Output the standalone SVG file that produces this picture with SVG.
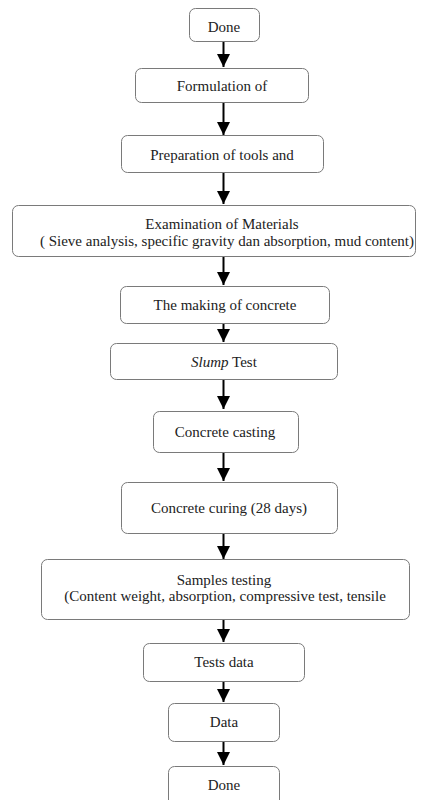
<svg xmlns="http://www.w3.org/2000/svg" width="424" height="800" viewBox="0 0 424 800">
<style>
.box{fill:#fff;stroke:#7a7a7a;stroke-width:1}
.t{font-family:'Liberation Serif','Times New Roman',serif;font-size:15px;fill:#222;text-anchor:middle}
.c line{stroke:#000;stroke-width:2}
</style>
<defs>
<marker id="ah" markerWidth="6.5" markerHeight="6.5" refX="6.5" refY="3.25" orient="auto" markerUnits="strokeWidth">
<path d="M0,0 L6.5,3.25 L0,6.5 z" fill="#000"/>
</marker>
</defs>
<rect width="424" height="800" fill="#fff"/>
<g class="c" id="connectors">
<line x1="223.5" y1="41" x2="223.5" y2="67" marker-end="url(#ah)"/>
<line x1="223.5" y1="102" x2="223.5" y2="135" marker-end="url(#ah)"/>
<line x1="223.5" y1="172" x2="223.5" y2="204" marker-end="url(#ah)"/>
<line x1="223.5" y1="256" x2="223.5" y2="285" marker-end="url(#ah)"/>
<line x1="223.5" y1="323" x2="223.5" y2="342" marker-end="url(#ah)"/>
<line x1="223.5" y1="379" x2="223.5" y2="409" marker-end="url(#ah)"/>
<line x1="223.5" y1="452" x2="223.5" y2="481" marker-end="url(#ah)"/>
<line x1="223.5" y1="533" x2="223.5" y2="559" marker-end="url(#ah)"/>
<line x1="223.5" y1="619" x2="223.5" y2="642" marker-end="url(#ah)"/>
<line x1="223.5" y1="681" x2="223.5" y2="702" marker-end="url(#ah)"/>
<line x1="223.5" y1="741" x2="223.5" y2="765" marker-end="url(#ah)"/>
</g>
<g id="n1"><rect class="box" x="189.5" y="8.5" width="70" height="33" rx="6"/><text class="t" x="224" y="32">Done</text></g>
<g id="n2"><rect class="box" x="135.5" y="68.5" width="173" height="34" rx="6"/><text class="t" x="222" y="91">Formulation of</text></g>
<g id="n3"><rect class="box" x="121.5" y="135.5" width="202" height="37" rx="6"/><text class="t" x="222" y="160">Preparation of tools and</text></g>
<g id="n4"><rect class="box" x="12.5" y="205.5" width="403" height="51" rx="6"/><text class="t" x="222" y="229">Examination of Materials</text><text class="t" x="227" y="246">( Sieve analysis, specific gravity dan absorption, mud content)</text></g>
<g id="n5"><rect class="box" x="120.5" y="286.5" width="209" height="37" rx="6"/><text class="t" x="225" y="310">The making of concrete</text></g>
<g id="n6"><rect class="box" x="110.5" y="343.5" width="227" height="36" rx="6"/><text class="t" x="224" y="367"><tspan font-style="italic">Slump</tspan> Test</text></g>
<g id="n7"><rect class="box" x="153.5" y="411.5" width="145" height="41" rx="6"/><text class="t" x="225" y="437">Concrete casting</text></g>
<g id="n8"><rect class="box" x="121.5" y="482.5" width="216" height="51" rx="6"/><text class="t" x="229" y="513">Concrete curing (28 days)</text></g>
<g id="n9"><rect class="box" x="41.5" y="559.5" width="368" height="60" rx="6"/><text class="t" x="224" y="585">Samples testing</text><text class="t" x="225" y="601">(Content weight, absorption, compressive test, tensile</text></g>
<g id="n10"><rect class="box" x="143.5" y="643.5" width="161" height="38" rx="6"/><text class="t" x="224" y="667">Tests data</text></g>
<g id="n11"><rect class="box" x="168.5" y="703.5" width="111" height="38" rx="6"/><text class="t" x="224" y="727">Data</text></g>
<g id="n12"><rect class="box" x="168.5" y="766.5" width="111" height="40" rx="6"/><text class="t" x="224" y="790">Done</text></g>
</svg>
